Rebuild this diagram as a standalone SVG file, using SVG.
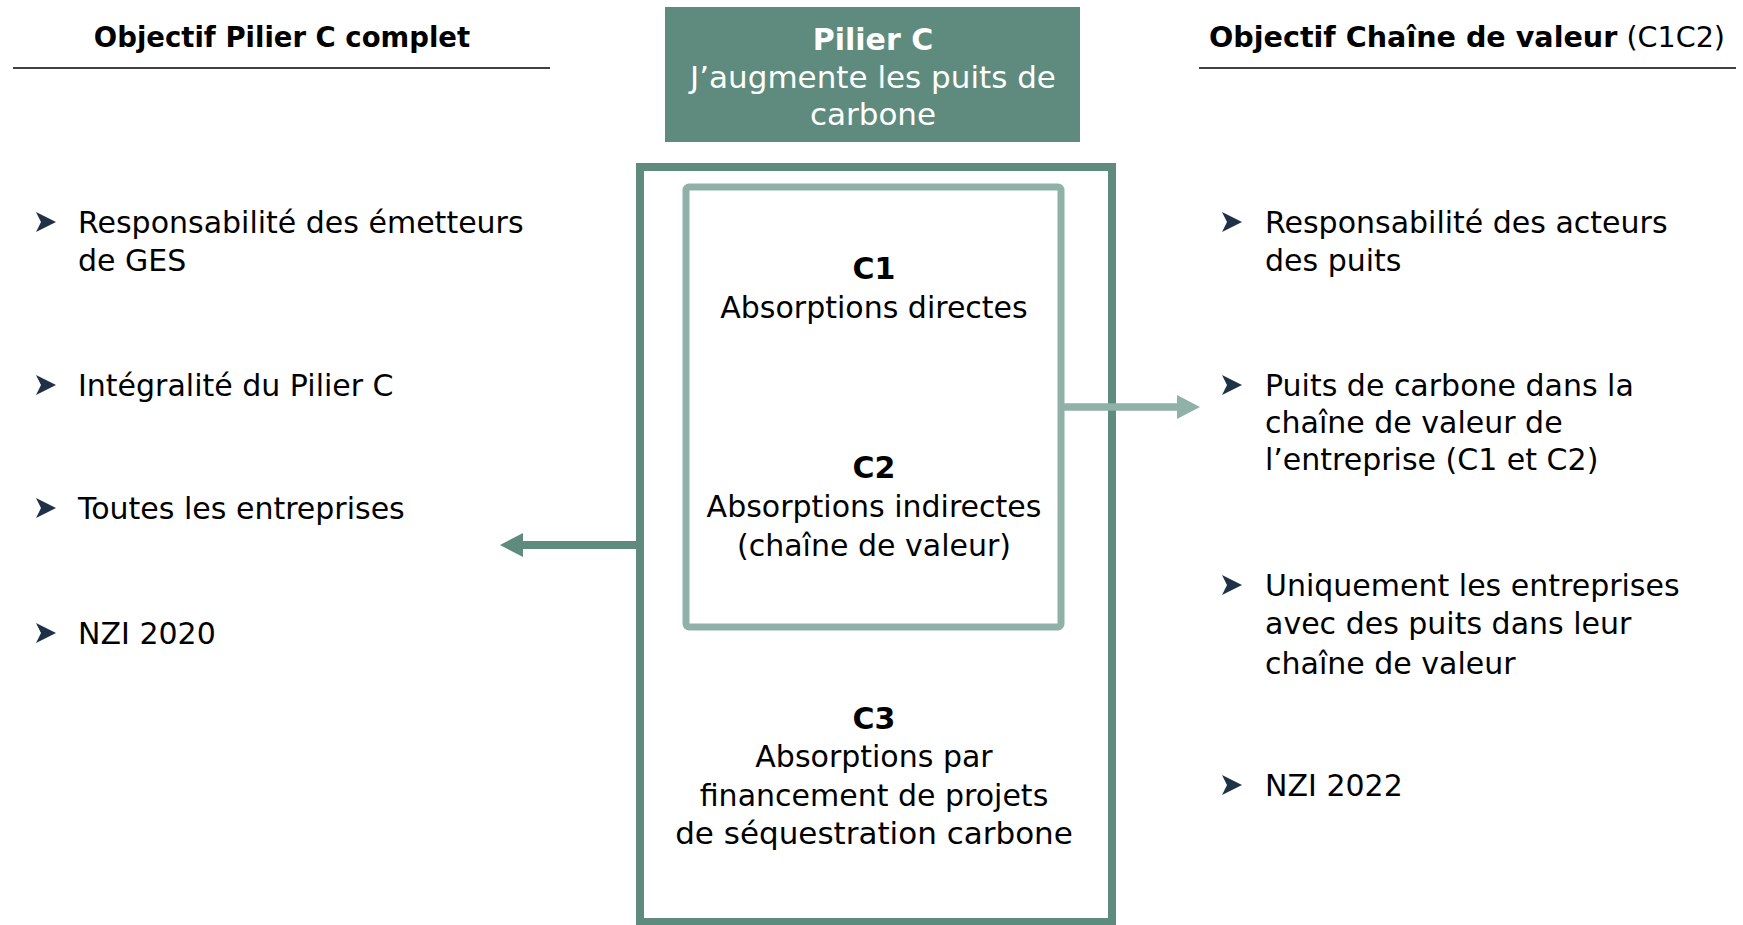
<svg xmlns="http://www.w3.org/2000/svg" width="1743" height="925" viewBox="0 0 1743 925">
<defs>
<style>
.t{font-family:"DejaVu Sans","Liberation Sans",sans-serif;font-size:30px;fill:#000}
.c{text-anchor:middle}
.b{font-weight:bold}
.h{font-family:"DejaVu Sans","Liberation Sans",sans-serif;font-size:27.5px;font-weight:bold;fill:#000}
.w{fill:#fff}
.rule{stroke:#000;stroke-width:1.5}
.bul{fill:#1F3049}
</style>
<path id="chev" d="M-1,-10 L19,0 L-1,10 L4,0 Z"/>
</defs>
<rect width="1743" height="925" fill="#fff"/>

<g id="header-left">
<text class="h c" x="282" y="47">Objectif Pilier C complet</text>
<line class="rule" x1="13" y1="68" x2="550" y2="68"/>
</g>
<g id="header-right">
<text class="h c" x="1467" y="47" style="font-size:28.6px">Objectif Chaîne de valeur<tspan font-weight="normal"> (C1C2)</tspan></text>
<line class="rule" x1="1199" y1="68" x2="1736" y2="68"/>
</g>

<g id="pilier">
<rect x="665" y="7" width="415" height="135" fill="#5E8B7E"/>
<text class="t c w b" x="873" y="50">Pilier C</text>
<text class="t c w" x="873" y="88" style="font-size:31px">J’augmente les puits de</text>
<text class="t c w" x="873" y="125" style="font-size:31px">carbone</text>
</g>

<g id="connectors">
<line x1="636" y1="545" x2="520" y2="545" stroke="#5E8B7E" stroke-width="8"/>
<polygon points="523,533 500,545 523,557" fill="#5E8B7E"/>
</g>

<g id="outer">
<rect x="640" y="167" width="472" height="755" fill="none" stroke="#5E8B7E" stroke-width="8"/>
<text class="t c b" x="874" y="729">C3</text>
<text class="t c" x="874" y="767">Absorptions par</text>
<text class="t c" x="874" y="806">financement de projets</text>
<text class="t c" x="874" y="844" style="font-size:31px">de séquestration carbone</text>
</g>

<g id="inner">
<rect x="686" y="187" width="375" height="440" rx="3" fill="none" stroke="#8FB1A7" stroke-width="7"/>
<text class="t c b" x="874" y="279">C1</text>
<text class="t c" x="874" y="318">Absorptions directes</text>
<text class="t c b" x="874" y="478">C2</text>
<text class="t c" x="874" y="517">Absorptions indirectes</text>
<text class="t c" x="874" y="556">(chaîne de valeur)</text>
</g>

<g id="connector-right">
<line x1="1061" y1="407" x2="1180" y2="407" stroke="#8FB1A7" stroke-width="7.5"/>
<polygon points="1177,395 1200,407 1177,419" fill="#8FB1A7"/>
</g>

<g id="list-left">
<use href="#chev" class="bul" x="37" y="222"/>
<text class="t" x="78" y="233">Responsabilité des émetteurs</text>
<text class="t" x="78" y="271">de GES</text>
<use href="#chev" class="bul" x="37" y="385"/>
<text class="t" x="78" y="396">Intégralité du Pilier C</text>
<use href="#chev" class="bul" x="37" y="508"/>
<text class="t" x="78" y="519">Toutes les entreprises</text>
<use href="#chev" class="bul" x="37" y="633"/>
<text class="t" x="78" y="644">NZI 2020</text>
</g>

<g id="list-right">
<use href="#chev" class="bul" x="1223" y="222"/>
<text class="t" x="1265" y="233">Responsabilité des acteurs</text>
<text class="t" x="1265" y="271">des puits</text>
<use href="#chev" class="bul" x="1223" y="385"/>
<text class="t" x="1265" y="396">Puits de carbone dans la</text>
<text class="t" x="1265" y="433">chaîne de valeur de</text>
<text class="t" x="1265" y="470">l’entreprise (C1 et C2)</text>
<use href="#chev" class="bul" x="1223" y="585"/>
<text class="t" x="1265" y="596">Uniquement les entreprises</text>
<text class="t" x="1265" y="634">avec des puits dans leur</text>
<text class="t" x="1265" y="674">chaîne de valeur</text>
<use href="#chev" class="bul" x="1223" y="785"/>
<text class="t" x="1265" y="796">NZI 2022</text>
</g>
</svg>
